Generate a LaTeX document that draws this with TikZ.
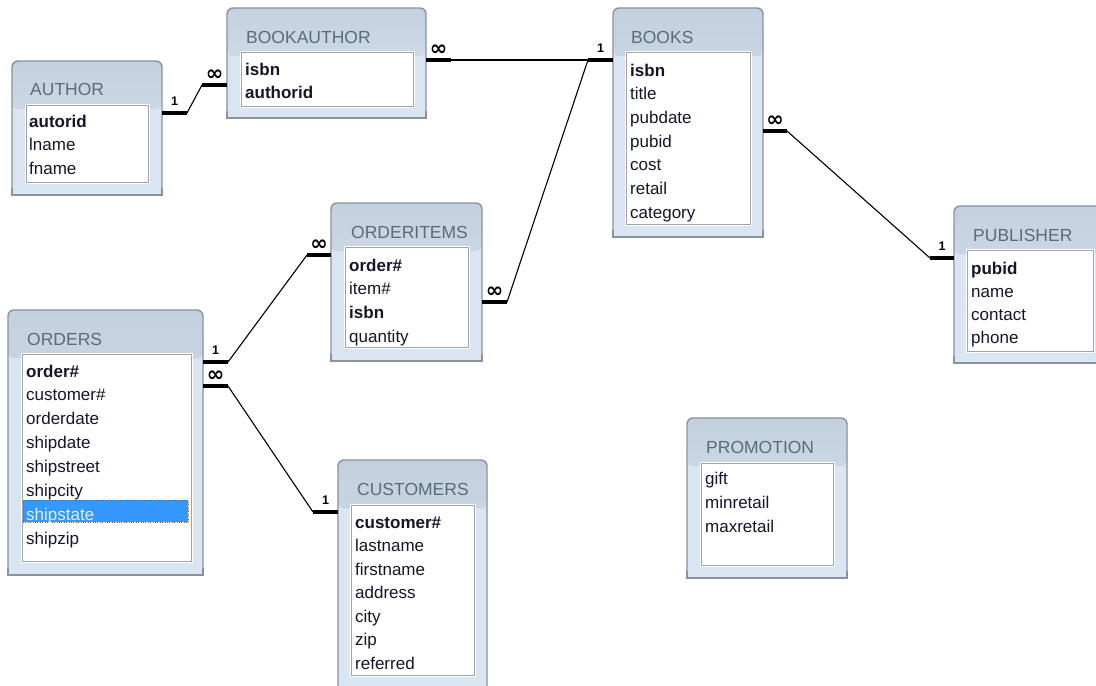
\documentclass[tikz,border=0pt]{standalone}
\usepackage{fontspec}
\setmainfont{Liberation Sans}
\newfontfamily\symfont{DejaVu Sans}
\usetikzlibrary{calc}

\definecolor{boxbody}{HTML}{DAE5F2}
\definecolor{boxtop}{HTML}{C3D0DE}
\definecolor{boxline}{HTML}{8A929C}
\definecolor{fldline}{HTML}{A0A4A8}
\definecolor{ttlcol}{HTML}{5A6B7E}
\definecolor{fldcol}{HTML}{15152B}
\definecolor{selblue}{HTML}{3399FF}

\tikzset{
	tbl/.style={anchor=north west, inner sep=0, outer sep=0, draw=boxline, line width=1.4pt, fill=boxbody, rounded corners=6pt,
		path picture={\shade[top color=boxtop, bottom color=boxbody] (path picture bounding box.north west) rectangle ([yshift=-48pt]path picture bounding box.north east);}},
	flds/.style={anchor=north west, inner sep=0, outer sep=0, fill=white, draw=fldline, line width=1pt, preaction={draw=white, line width=3pt}},
	ttl/.style={anchor=base west, inner sep=0, text=ttlcol, font=\fontsize{17.5}{20}\selectfont},
	fld/.style={anchor=base west, inner sep=0, text=fldcol, font=\fontsize{17}{20}\selectfont},
	key/.style={fld, font=\fontsize{17}{20}\selectfont\bfseries},
	stub/.style={line width=4pt},
	rel/.style={line width=1.1pt},
	one/.style={anchor=base, inner sep=0, yshift=8pt, font=\fontsize{12.5}{13}\selectfont\bfseries},
	many/.style={anchor=base, inner sep=0, yshift=5pt, font=\symfont\fontsize{21}{22}\selectfont\bfseries},
}

\begin{document}
\begin{tikzpicture}[x=1pt, y=-1pt]
	\useasboundingbox (0,0) rectangle (1096,686);

	% tables
	\node[tbl, minimum width=150pt, minimum height=134pt] (author) at (12,61) {};
	\node[tbl, minimum width=199pt, minimum height=110pt] (bookauthor) at (227,8) {};
	\node[tbl, minimum width=150pt, minimum height=229pt] (books) at (613,8) {};
	\node[tbl, minimum width=151pt, minimum height=158pt] (orderitems) at (331,203) {};
	\node[tbl, minimum width=195pt, minimum height=265pt] (orders) at (8,310) {};
	\node[tbl, minimum width=149pt, minimum height=245pt] (customers) at (338,460) {};
	\node[tbl, minimum width=150pt, minimum height=157pt] (publisher) at (954,206) {};
	\node[tbl, minimum width=160pt, minimum height=160pt] (promotion) at (687,418) {};

	% square bottom corners
	\foreach \t in {author,bookauthor,books,orderitems,orders,customers,publisher,promotion}{
		\fill[boxbody] ([yshift=7pt]\t.south west) rectangle (\t.south east);
		\draw[boxline, line width=1.4pt] ([yshift=7pt]\t.south west) |- (\t.south east) -- ([yshift=7pt]\t.south east);
	}

	% field lists
	\node[flds, minimum width=122pt, minimum height=77pt] (author-f) at (26,105) {};
	\node[flds, minimum width=172pt, minimum height=54pt] (bookauthor-f) at (241,52) {};
	\node[flds, minimum width=124pt, minimum height=172pt] (books-f) at (626,52) {};
	\node[flds, minimum width=123pt, minimum height=100pt] (orderitems-f) at (345,247) {};
	\node[flds, minimum width=169pt, minimum height=207pt] (orders-f) at (22,354) {};
	\node[flds, minimum width=123pt, minimum height=170pt] (customers-f) at (351,505) {};
	\node[flds, minimum width=126pt, minimum height=101pt] (publisher-f) at (967,250) {};
	\node[flds, minimum width=132pt, minimum height=102pt] (promotion-f) at (701,463) {};

	% titles
	\node[ttl] (author-t) at (30,95) {AUTHOR};
	\node[ttl] (bookauthor-t) at (246,43) {BOOKAUTHOR};
	\node[ttl] (books-t) at (631,43) {BOOKS};
	\node[ttl] (orderitems-t) at (351,238) {ORDERITEMS};
	\node[ttl] (orders-t) at (27,345) {ORDERS};
	\node[ttl] (customers-t) at (357,495) {CUSTOMERS};
	\node[ttl] (publisher-t) at (973,241) {PUBLISHER};
	\node[ttl] (promotion-t) at (706,453) {PROMOTION};

	% AUTHOR
	\node[key] (author-0) at (29,127) {autorid};
	\foreach \f [count=\i] in {lname,fname}
		\node[fld] (author-\i) at (29,127+23.5*\i) {\f};

	% BOOKAUTHOR
	\node[key] (bookauthor-0) at (245,75) {isbn};
	\node[key] (bookauthor-1) at (245,98.5) {authorid};

	% BOOKS
	\node[key] (books-0) at (630,76) {isbn};
	\foreach \f [count=\i] in {title,pubdate,pubid,cost,retail,category}
		\node[fld] (books-\i) at (630,76+23.67*\i) {\f};

	% ORDERITEMS
	\node[key] (orderitems-0) at (349,271) {order\#};
	\node[fld] (orderitems-1) at (349,294.5) {item\#};
	\node[key] (orderitems-2) at (349,318) {isbn};
	\node[fld] (orderitems-3) at (349,342) {quantity};

	% ORDERS
	\node[anchor=north west, inner sep=0, outer sep=0, fill=selblue, draw=orange!70!black, dotted, minimum width=165pt, minimum height=22pt] (orders-sel) at (23,500) {};
	\node[key] (orders-0) at (26,377) {order\#};
	\foreach \f [count=\i] in {customer\#,orderdate,shipdate,shipstreet,shipcity}
		\node[fld] (orders-\i) at (26,377+23.86*\i) {\f};
	\node[fld, text=white!85!selblue] (orders-6) at (26,377+23.86*6) {shipstate};
	\node[fld] (orders-7) at (26,377+23.86*7) {shipzip};

	% CUSTOMERS
	\node[key] (customers-0) at (355,528) {customer\#};
	\foreach \f [count=\i] in {lastname,firstname,address,city,zip,referred}
		\node[fld] (customers-\i) at (355,528+23.5*\i) {\f};

	% PUBLISHER
	\node[key] (publisher-0) at (971,274) {pubid};
	\foreach \f [count=\i] in {name,contact,phone}
		\node[fld] (publisher-\i) at (971,274+23.2*\i) {\f};

	% PROMOTION
	\foreach \f [count=\i from 0] in {gift,minretail,maxretail}
		\node[fld] (promotion-\i) at (705,484+24*\i) {\f};

	% relationships
	\coordinate (ab1) at (187,113);
	\coordinate (ab2) at (202,85);
	\draw[stub] (author.east |- ab1) -- node[one] (author-c) {1} (ab1);
	\draw[rel] (ab1) -- (ab2);
	\draw[stub] (ab2) -- node[many] (bookauthor-c1) {∞} (ab2 -| bookauthor.west);

	\coordinate (bk1) at (451,60);
	\coordinate (bk2) at (588,60);
	\draw[stub] (bookauthor.east |- bk1) -- node[many] (bookauthor-c2) {∞} (bk1);
	\draw[rel] (bk1) -- (bk2);
	\draw[stub] (bk2) -- node[one] (books-c1) {1} (bk2 -| books.west);

	\coordinate (ib1) at (507,302);
	\draw[stub] (orderitems.east |- ib1) -- node[many] (orderitems-c2) {∞} (ib1);
	\draw[rel] (ib1) -- (bk2);

	\coordinate (bp1) at (787,131);
	\coordinate (bp2) at (930,258);
	\draw[stub] (books.east |- bp1) -- node[many] (books-c2) {∞} (bp1);
	\draw[rel] (bp1) -- (bp2);
	\draw[stub] (bp2) -- node[one] (publisher-c) {1} (bp2 -| publisher.west);

	\coordinate (oi1) at (228,362);
	\coordinate (oi2) at (307,255);
	\draw[stub] (orders.east |- oi1) -- node[one] (orders-c1) {1} (oi1);
	\draw[rel] (oi1) -- (oi2);
	\draw[stub] (oi2) -- node[many] (orderitems-c1) {∞} (oi2 -| orderitems.west);

	\coordinate (oc1) at (228,386);
	\coordinate (oc2) at (313,512);
	\draw[stub] (orders.east |- oc1) -- node[many] (orders-c2) {∞} (oc1);
	\draw[rel] (oc1) -- (oc2);
	\draw[stub] (oc2) -- node[one] (customers-c) {1} (oc2 -| customers.west);
\end{tikzpicture}
\end{document}
